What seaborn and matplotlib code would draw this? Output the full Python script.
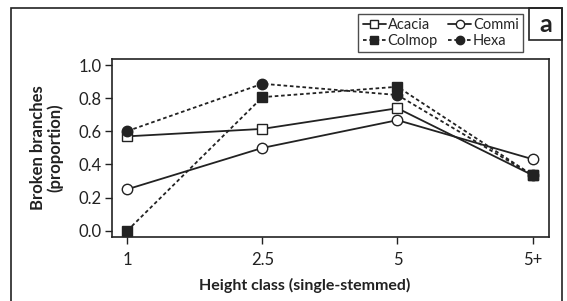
import matplotlib
matplotlib.use("Agg")
import matplotlib.pyplot as plt
import seaborn as sns
import pandas as pd
from matplotlib.patches import Rectangle

height_classes = ["1", "2.5", "5", "5+"]
acacia = [0.57, 0.615, 0.74, 0.335]
commi = [0.25, 0.50, 0.668, 0.432]
colmop = [0.0, 0.807, 0.87, 0.335]
hexa = [0.602, 0.888, 0.82, 0.335]
series_names = ["Acacia", "Commi", "Colmop", "Hexa"]

sns.set_style("ticks")
plt.rcParams["font.family"] = ["Lato", "DejaVu Sans"]

fig = plt.figure(figsize=(5.67, 3.01), dpi=100)
W, H = 567, 301
ax = fig.add_axes([111.7 / W, 1 - 236.7 / H, (549.3 - 111.7) / W, (236.7 - 59.3) / H])

styles = {
    "Acacia": dict(marker="s", mfc="white", ls="-", ms=6.5),
    "Commi": dict(marker="o", mfc="white", ls="-", ms=7.5),
    "Colmop": dict(marker="s", mfc="#222222", ls=(0, (2, 1.5)), ms=6.5),
    "Hexa": dict(marker="o", mfc="#222222", ls=(0, (2, 1.5)), ms=7.5),
}
values = {"Acacia": acacia, "Commi": commi, "Colmop": colmop, "Hexa": hexa}

handles = {}
for name in series_names:
    df = pd.DataFrame({"cls": height_classes, "val": values[name]})
    st = styles[name]
    sns.lineplot(data=df, x="cls", y="val", ax=ax, color="#222222", lw=1.3,
                 linestyle=st["ls"], marker=st["marker"], markersize=st["ms"],
                 markerfacecolor=st["mfc"], markeredgecolor="#222222",
                 markeredgewidth=1.0, sort=False, legend=False)
    handles[name] = ax.lines[-1]

ax.set_xlim(-0.116, 3.124)
ax.set_ylim(-0.037, 1.036)
ax.set_yticks([0, 0.2, 0.4, 0.6, 0.8, 1.0])
ax.set_yticklabels(["0.0", "0.2", "0.4", "0.6", "0.8", "1.0"])
ax.tick_params(axis="both", labelsize=12, length=5, width=1, color="#222222",
               labelcolor="#222222")
ax.tick_params(axis="y", pad=2)
ax.tick_params(axis="x", pad=6)
for sp in ax.spines.values():
    sp.set_linewidth(1.2)
    sp.set_color("#222222")
ax.set_xlabel("Height class (single-stemmed)", fontsize=11.5, fontweight="bold",
              color="#222222")
ax.xaxis.set_label_coords(0.44, -0.232)
ax.set_ylabel("Broken branches\n(proportion)", fontsize=12, fontweight="bold",
              color="#222222", labelpad=11, linespacing=1.05)

order = ["Acacia", "Colmop", "Commi", "Hexa"]
leg = fig.legend([handles[n] for n in order], order, ncol=2,
                 loc="upper right", bbox_to_anchor=(523 / W, 1 - 14 / H),
                 frameon=True, fancybox=False, edgecolor="#222222",
                 fontsize=10.5, handlelength=1.6, handletextpad=0.1,
                 columnspacing=0.7, borderpad=0.3, labelspacing=0.1,
                 borderaxespad=0, markerscale=0.8)
leg.get_frame().set_linewidth(1.0)

# outer border
fig.patches.append(Rectangle((11 / W, -0.1), (561.7 - 11) / W, 1.1 - 8.3 / H,
                             transform=fig.transFigure, fill=False,
                             edgecolor="#222222", lw=1.2))
# panel label box
fig.patches.append(Rectangle((529.3 / W, 1 - 40 / H), (561.7 - 529.3) / W, (40 - 8.3) / H,
                             transform=fig.transFigure, fill=False,
                             edgecolor="#222222", lw=1.2))
fig.text((529.3 + 561.7) / 2 / W, 1 - 25 / H, "a", ha="center", va="center",
         fontsize=18, fontweight="bold", color="#222222")

fig.savefig("out.png", dpi=100)
